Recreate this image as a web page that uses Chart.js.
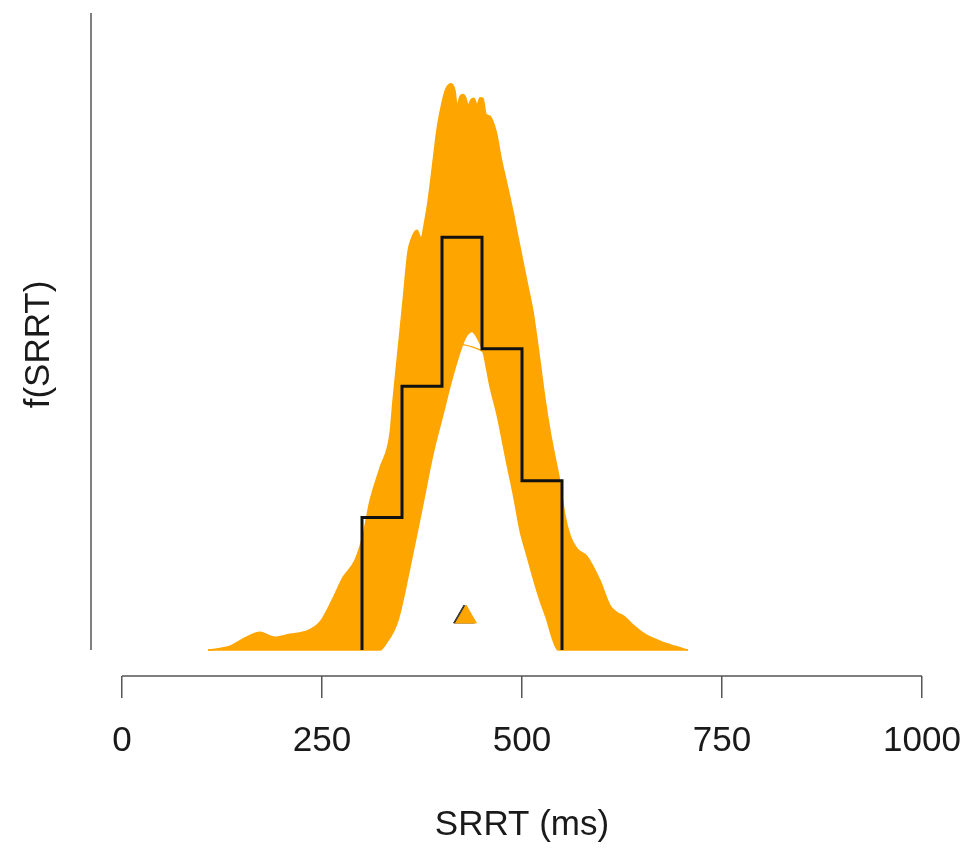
<!DOCTYPE html>
<html>
<head>
<meta charset="utf-8">
<title>SRRT – posterior predictive densities</title>
<script src="https://cdn.jsdelivr.net/npm/chart.js@4.4.1/dist/chart.umd.min.js"></script>
<style>
  html, body { margin: 0; padding: 0; background: #fff; }
  #wrap { width: 969px; height: 850px; }
</style>
</head>
<body>
<div id="wrap"><canvas id="srrtChart" width="969" height="850"></canvas></div>
<script>
// x axis ticks (ms)
const X_TICKS = [0, 250, 500, 750, 1000];

// observed SRRT histogram (density per ms)
const BIN_EDGES = [300, 350, 400, 450, 500, 550];
const BIN_DENSITY = [0.00208, 0.00414, 0.00648, 0.00473, 0.00266];

// outer edge of the bundle of predicted density curves
const UPPER_X = [107.5, 135, 153.75, 172.5, 191.25, 210, 231.25, 247.5, 262.5, 276.25, 291.25, 301.25, 310, 322.5, 335, 338.75,
  345, 351.25, 357.5, 362.5, 368.75, 373.75, 378.75, 382.5, 388.75, 393.75, 400, 405, 411.25, 416.25, 418.75, 422.5,
  426.25, 430, 432.5, 436.25, 440, 443.75, 447.5, 451.25, 455, 460, 465, 468.75, 473.75, 481.25, 488.75, 495, 501.25,
  507.5, 513.75, 522.5, 528.75, 535, 541.25, 547.5, 553.75, 560, 568.75, 581.25, 597.5, 610, 618.75, 627.5, 637.5,
  653.75, 672.5, 691.25, 707.5];
const UPPER_Y = [0, 0.00006, 0.00019, 0.00028, 0.0002, 0.00025, 0.0003, 0.00044, 0.00078, 0.00114, 0.00141, 0.0018, 0.00234,
  0.00286, 0.00339, 0.00391, 0.00469, 0.00547, 0.00625, 0.00648, 0.00659, 0.00647, 0.00675, 0.00703, 0.00766, 0.00817,
  0.00859, 0.00881, 0.00889, 0.00878, 0.00855, 0.00869, 0.00872, 0.00866, 0.00855, 0.00864, 0.00866, 0.00856, 0.00867,
  0.00866, 0.00841, 0.00838, 0.00825, 0.00808, 0.00773, 0.00731, 0.00688, 0.00648, 0.00609, 0.0057, 0.00531, 0.00453,
  0.00394, 0.00344, 0.00303, 0.00263, 0.00211, 0.0018, 0.00159, 0.00147, 0.00109, 0.0007, 0.00059, 0.00053, 0.00041,
  0.00025, 0.00014, 0.00006, 0];

// inner edge (the curves leave a hollow under the peak)
const LOWER_X = [107.5, 322.5, 328.75, 345, 361.25, 376.25, 388.75, 401.25, 410, 420, 428.75, 437.5, 445, 451.25, 460,
  468.75, 481.25, 490, 497.5, 506.25, 513.75, 522.5, 531.25, 537.5, 545, 707.5];
const LOWER_Y = [0, 0, 0.00008, 0.00047, 0.00138, 0.0023, 0.00308, 0.0037, 0.00414, 0.00458, 0.00489, 0.005, 0.00488,
  0.00469, 0.00414, 0.0037, 0.00292, 0.00239, 0.00188, 0.00148, 0.00114, 0.00078, 0.00047, 0.0002, 0, 0];

// one flat, low curve that crosses the hollow
const FLAT_X = [297.5, 335, 360, 378.75, 397.5, 416.25, 435, 453.75, 472.5, 497.5, 522.5, 560];
const FLAT_Y = [0.00047, 0.00172, 0.00313, 0.00422, 0.00469, 0.00481, 0.00477, 0.00466, 0.00438, 0.00328, 0.00172, 0.00031];

// means: observed (black) and predicted (orange) triangles
const OBS_MEAN = [427.5];
const PRED_MEAN = [430];
const MEAN_Y = [0.00052];

const Y_AXIS_TOP = 0.01;
const ORANGE = '#FFA500';
const FONT = "'Liberation Sans', Helvetica, Arial, sans-serif";

const pts = (xs, ys) => xs.map((x, i) => ({ x, y: ys[i] }));

function histSteps(edges, dens) {
  const out = [{ x: edges[0], y: 0 }];
  dens.forEach((d, i) => {
    out.push({ x: edges[i], y: d });
    out.push({ x: edges[i + 1], y: d });
  });
  out.push({ x: edges[edges.length - 1], y: 0 });
  return out;
}

// R-style axes: line spans first..last tick only
const rAxes = {
  id: 'rAxes',
  afterDraw(chart) {
    const { ctx, chartArea, scales: { x, y } } = chart;
    ctx.save();
    ctx.strokeStyle = '#555';
    ctx.lineWidth = 1.5;
    ctx.beginPath();
    ctx.moveTo(x.getPixelForValue(X_TICKS[0]), chartArea.bottom);
    ctx.lineTo(x.getPixelForValue(X_TICKS[X_TICKS.length - 1]), chartArea.bottom);
    ctx.moveTo(chartArea.left + 1, y.getPixelForValue(0));
    ctx.lineTo(chartArea.left + 1, y.getPixelForValue(Y_AXIS_TOP));
    ctx.stroke();
    ctx.restore();
  }
};

new Chart(document.getElementById('srrtChart').getContext('2d'), {
  type: 'line',
  data: {
    datasets: [
      {
        data: pts(LOWER_X, LOWER_Y),
        borderColor: ORANGE, borderWidth: 1.5,
        pointRadius: 0, fill: false, cubicInterpolationMode: 'monotone', order: 5
      },
      {
        data: pts(UPPER_X, UPPER_Y),
        borderColor: ORANGE, borderWidth: 1.5, backgroundColor: ORANGE,
        pointRadius: 0, fill: '-1', cubicInterpolationMode: 'monotone', order: 4
      },
      {
        data: pts(FLAT_X, FLAT_Y),
        borderColor: ORANGE, borderWidth: 1.2,
        pointRadius: 0, fill: false, cubicInterpolationMode: 'monotone', order: 3
      },
      {
        data: histSteps(BIN_EDGES, BIN_DENSITY),
        borderColor: '#111', borderWidth: 3, borderJoinStyle: 'miter',
        pointRadius: 0, fill: false, tension: 0, order: 2
      },
      {
        data: pts(OBS_MEAN, MEAN_Y),
        showLine: false, pointStyle: 'triangle', pointRadius: 12,
        pointBackgroundColor: '#333', pointBorderColor: '#333', pointBorderWidth: 1, order: 1
      },
      {
        data: pts(PRED_MEAN, MEAN_Y),
        showLine: false, pointStyle: 'triangle', pointRadius: 12,
        pointBackgroundColor: ORANGE, pointBorderColor: ORANGE, pointBorderWidth: 1, order: 0
      }
    ]
  },
  options: {
    responsive: false,
    animation: false,
    devicePixelRatio: 1,
    layout: { padding: { left: 18, right: 15, top: 10, bottom: 0 } },
    plugins: { legend: { display: false }, tooltip: { enabled: false } },
    scales: {
      x: {
        type: 'linear',
        min: -40,
        max: 1040,
        afterBuildTicks: s => { s.ticks = X_TICKS.map(v => ({ value: v })); },
        afterFit: s => { s.height = 174; s.paddingLeft = 0; s.paddingRight = 0; },
        border: { display: false },
        grid: { display: true, drawOnChartArea: false, drawTicks: true, tickLength: 22,
                color: '#555', tickColor: '#555', lineWidth: 1.5, tickWidth: 1.5 },
        ticks: { autoSkip: false, maxRotation: 0, padding: 22, color: '#1a1a1a',
                 font: { family: FONT, size: 35 }, callback: v => String(v) },
        title: { display: true, text: 'SRRT (ms)', color: '#1a1a1a',
                 font: { family: FONT, size: 35 }, padding: { top: 0, bottom: 4 } }
      },
      y: {
        type: 'linear',
        min: -0.00040625,
        max: Y_AXIS_TOP,
        afterFit: s => { s.width = 72; s.paddingTop = 0; s.paddingBottom = 0; },
        border: { display: false },
        grid: { display: false },
        ticks: { display: false },
        title: { display: true, text: 'f(SRRT)', color: '#1a1a1a',
                 font: { family: FONT, size: 35 }, padding: { top: 0, bottom: 0 } }
      }
    }
  },
  plugins: [rAxes]
});
</script>
</body>
</html>
